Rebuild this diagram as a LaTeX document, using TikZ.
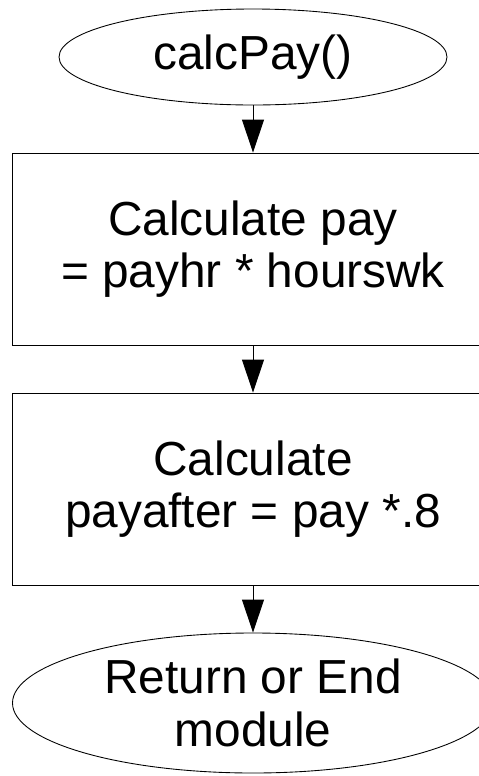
\documentclass[tikz,border=0pt]{standalone}
\usepackage{fontspec}
\setmainfont{Liberation Sans}
\usetikzlibrary{shapes.geometric,arrows.meta}
\begin{document}
\begin{tikzpicture}[
    every node/.style={font=\fontsize{27.2}{30}\selectfont, align=center, line width=0.5pt},
    terminal/.style={draw, ellipse, inner sep=0pt},
    process/.style={draw, rectangle, minimum width=9.64cm, minimum height=3.84cm, inner sep=0pt},
    flow/.style={-{Triangle[length=0.66cm,width=0.44cm]}, line width=0.5pt}
  ]
      \clip (0,0) rectangle (9.58,-15.52);
      \useasboundingbox (0,0) rectangle (9.58,-15.52);
      \draw
        (5.06,-1.14) node[terminal, minimum width=7.76cm, minimum height=1.92cm] (start){calcPay()}
        (5.06,-4.98) node[process] (pay){Calculate pay\\= payhr * hourswk}
        (5.06,-9.78) node[process] (after){Calculate\\payafter = pay *.8}
        (5.06,-14.06) node[terminal, minimum width=9.62cm, minimum height=2.8cm] (stop){Return or End\\module};
      \begin{scope}[flow]
        \draw (start) to (pay);
        \draw (pay) to (after);
        \draw (after) to (stop);
      \end{scope}
    \end{tikzpicture}
\end{document}
